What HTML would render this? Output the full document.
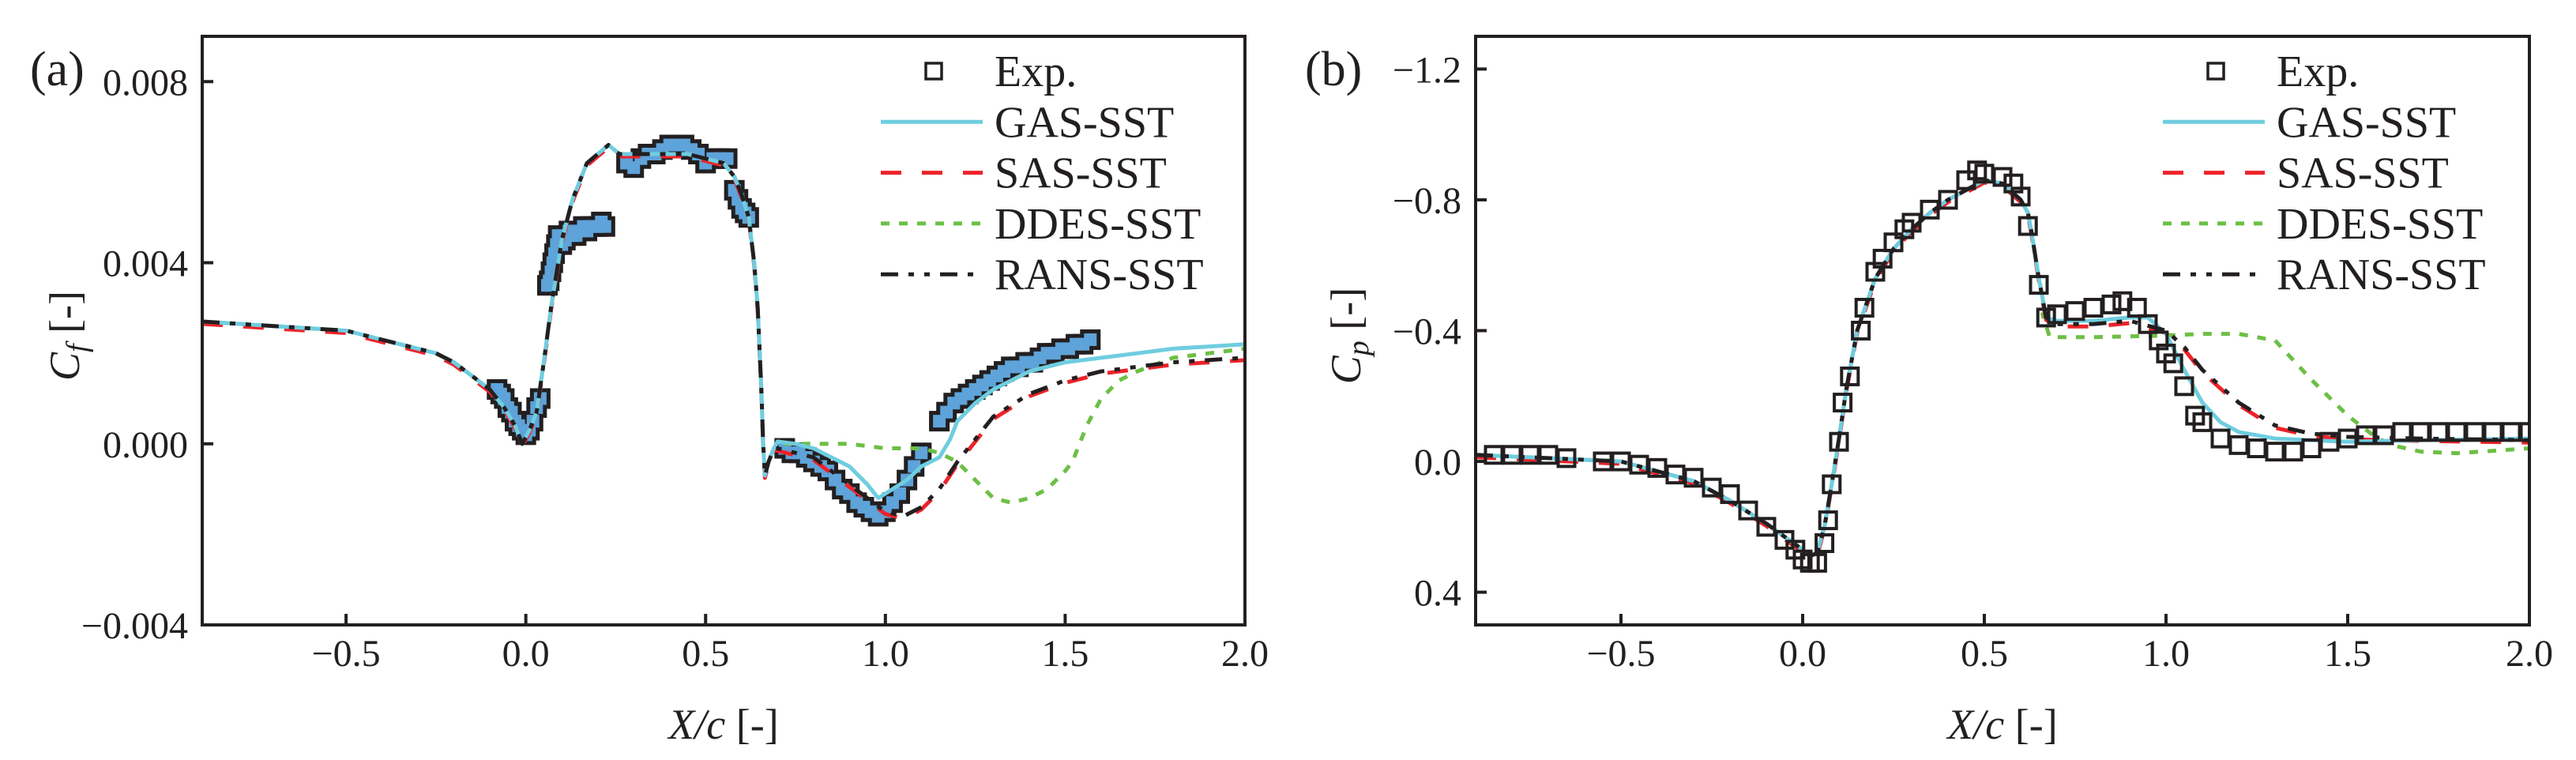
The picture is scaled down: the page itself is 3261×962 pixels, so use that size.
<!DOCTYPE html>
<html><head><meta charset="utf-8"><style>
html,body{margin:0;padding:0;background:#fff}
svg{display:block}
text{font-family:"Liberation Serif",serif;fill:#231f20}
</style></head><body>
<svg id="fig" width="3261" height="962" viewBox="0 0 3261 962" xmlns="http://www.w3.org/2000/svg">
</svg>
<script>
// ---------- Panel (a) Cf data ----------
const cfBaseX = [-0.9,-0.7,-0.5,-0.4,-0.3,-0.25,-0.2,-0.15,-0.1,-0.06,-0.03,-0.01,0.01,0.03,0.05,0.07,0.1,0.13,0.15,0.17,0.2,0.23,0.26,0.3,0.35,0.4,0.45,0.5,0.55,0.58,0.6,0.62,0.635,0.645,0.655,0.66,0.665,0.675,0.69];
const cfBaseY = [0.0027,0.0026,0.0025,0.0023,0.0021,0.0020,0.0018,0.0015,0.0012,0.0008,0.0004,0.0000,0.0003,0.0007,0.0018,0.0030,0.0045,0.0054,0.0058,0.0062,0.0064,0.0066,0.0064,0.0064,0.0064,0.0064,0.0064,0.0063,0.0062,0.0059,0.0055,0.0050,0.0040,0.0030,0.0012,0.0000,-0.0007,-0.0004,-0.0001];
const cfGasX = [0.7,0.75,0.8,0.85,0.9,0.95,0.98,1.02,1.06,1.1,1.15,1.18,1.2,1.25,1.3,1.4,1.5,1.6,1.7,1.8,1.9,2.0];
const cfGasY = [0.00005,0.0000,-0.0001,-0.0003,-0.0005,-0.0009,-0.0012,-0.0010,-0.0008,-0.0005,-0.0003,0.0001,0.0005,0.0009,0.0012,0.0016,0.0018,0.0019,0.0020,0.0021,0.00215,0.0022];
const cfRansX = [0.7,0.8,0.9,1.0,1.05,1.1,1.15,1.2,1.25,1.3,1.4,1.5,1.6,1.7,1.8,1.9,2.0];
const cfRansY = [-0.0001,-0.0003,-0.0009,-0.0015,-0.0016,-0.0014,-0.0010,-0.0004,0.0001,0.0006,0.0011,0.0014,0.0016,0.0017,0.0018,0.00185,0.0019];
const cfDdesX = [0.7,0.8,0.9,1.0,1.1,1.15,1.2,1.25,1.3,1.35,1.4,1.45,1.5,1.52,1.56,1.6,1.65,1.7,1.8,1.9,2.0];
const cfDdesY = [0.0,0.0,0.0,-0.0001,-0.0001,-0.0002,-0.0004,-0.0008,-0.0012,-0.0013,-0.0012,-0.0010,-0.0006,-0.0004,0.0004,0.0010,0.0014,0.0016,0.0019,0.0020,0.0021];
const cfExpX = [-0.08,-0.07,-0.06,-0.05,-0.04,-0.03,-0.02,-0.01,0.0,0.01,0.02,0.03,0.04,0.06,0.065,0.07,0.075,0.08,0.085,0.09,0.1,0.11,0.12,0.13,0.14,0.15,0.16,0.17,0.18,0.19,0.2,0.21,0.22,0.28,0.3,0.32,0.34,0.36,0.38,0.4,0.42,0.44,0.46,0.48,0.5,0.52,0.54,0.56,0.58,0.59,0.6,0.61,0.62,
 0.72,0.74,0.76,0.78,0.8,0.82,0.84,0.86,0.88,0.9,0.92,0.94,0.96,0.98,1.0,1.02,1.04,1.06,1.08,1.1,
 1.15,1.17,1.19,1.21,1.23,1.25,1.27,1.29,1.31,1.33,1.35,1.37,1.39,1.41,1.43,1.45,1.47,1.49,1.51,1.53,1.55,1.57];
const cfExpY = [0.0012,0.0011,0.0010,0.0008,0.0007,0.0005,0.0004,0.0003,0.0002,0.0003,0.0005,0.0008,0.0010,0.0035,0.0036,0.0038,0.0040,0.0042,0.0044,0.0046,0.0044,0.0045,0.0047,0.0046,0.0046,0.0047,0.0048,0.0047,0.0048,0.0048,0.0048,0.0049,0.0048,0.0062,0.0061,0.0063,0.0064,0.0064,0.0065,0.0066,0.0066,0.0066,0.0065,0.0064,0.0062,0.0063,0.0063,0.0063,0.0056,0.0054,0.0052,0.0051,0.0050,
 -0.0001,-0.0002,-0.0002,-0.0003,-0.0004,-0.0005,-0.0006,-0.0008,-0.0010,-0.0011,-0.0013,-0.0014,-0.0015,-0.0016,-0.0015,-0.0013,-0.0011,-0.0008,-0.0005,-0.0002,
 0.0005,0.0007,0.0009,0.0010,0.0011,0.0012,0.0013,0.0014,0.0015,0.0016,0.0017,0.0017,0.0018,0.0018,0.0019,0.0020,0.0020,0.0021,0.0021,0.0022,0.0022,0.0023];
const cfYTicks = [0.008,0.004,0.0,-0.004];
const cfYTickLabels = ["0.008","0.004","0.000","\u22120.004"];

// ---------- Panel (b) Cp data ----------
const cpBaseX = [-0.9,-0.7,-0.5,-0.4,-0.3,-0.2,-0.1,-0.05,0.0,0.02,0.04,0.06,0.08,0.1,0.12,0.15,0.2,0.25,0.3,0.35,0.4,0.45,0.5,0.55,0.6,0.62,0.63,0.65,0.67];
const cpBaseY = [-0.02,-0.01,0.0,0.03,0.06,0.12,0.19,0.23,0.27,0.29,0.28,0.2,0.07,-0.07,-0.22,-0.4,-0.56,-0.65,-0.71,-0.76,-0.80,-0.83,-0.86,-0.85,-0.80,-0.76,-0.70,-0.56,-0.44];
const cpGasX = [0.67,0.7,0.8,0.9,0.95,1.0,1.05,1.1,1.15,1.2,1.3,1.4,1.5,1.7,2.0];
const cpGasY = [-0.44,-0.43,-0.43,-0.44,-0.44,-0.39,-0.28,-0.18,-0.12,-0.09,-0.07,-0.065,-0.06,-0.065,-0.07];
const cpRansX = [0.67,0.7,0.8,0.9,1.0,1.05,1.1,1.2,1.3,1.4,1.5,1.7,2.0];
const cpRansY = [-0.44,-0.42,-0.42,-0.43,-0.40,-0.35,-0.28,-0.18,-0.11,-0.085,-0.075,-0.07,-0.065];
const cpDdesX = [0.66,0.68,0.8,1.0,1.1,1.2,1.3,1.4,1.5,1.57,1.62,1.7,1.8,2.0];
const cpDdesY = [-0.45,-0.38,-0.38,-0.385,-0.39,-0.39,-0.37,-0.25,-0.14,-0.08,-0.05,-0.03,-0.025,-0.04];
const cpExpX = [-0.85,-0.8,-0.75,-0.7,-0.65,-0.55,-0.5,-0.45,-0.4,-0.35,-0.3,-0.25,-0.2,-0.15,-0.1,-0.05,-0.02,0.0,0.02,0.04,0.06,0.07,0.08,0.1,0.11,0.13,0.16,0.17,0.2,0.22,0.25,0.28,0.3,0.35,0.4,0.45,0.48,0.5,0.55,0.58,0.6,0.62,0.65,0.67,0.7,0.75,0.8,0.85,0.88,0.92,0.95,0.98,1.0,1.02,1.05,1.08,1.1,1.15,1.2,1.25,1.3,1.35,1.4,1.45,1.5,1.55,1.6,1.65,1.7,1.75,1.8,1.85,1.9,1.95,2.0];
const cpExpY = [-0.02,-0.02,-0.02,-0.02,-0.01,0.0,0.0,0.01,0.02,0.04,0.05,0.08,0.1,0.15,0.2,0.24,0.27,0.3,0.31,0.31,0.25,0.18,0.07,-0.06,-0.18,-0.26,-0.4,-0.47,-0.58,-0.62,-0.67,-0.71,-0.73,-0.77,-0.8,-0.86,-0.89,-0.88,-0.87,-0.85,-0.81,-0.72,-0.54,-0.44,-0.45,-0.46,-0.47,-0.48,-0.49,-0.47,-0.42,-0.37,-0.33,-0.30,-0.23,-0.14,-0.12,-0.07,-0.05,-0.04,-0.03,-0.03,-0.04,-0.06,-0.07,-0.08,-0.08,-0.09,-0.09,-0.09,-0.09,-0.09,-0.09,-0.09,-0.09];
const cpYTicks = [-1.2,-0.8,-0.4,0.0,0.4];
const cpYTickLabels = ["\u22121.2","\u22120.8","\u22120.4","0.0","0.4"];

const xTicks = [-0.5,0.0,0.5,1.0,1.5,2.0];
const xTickLabels = ["\u22120.5","0.0","0.5","1.0","1.5","2.0"];
const legendLabels = ["Exp.","GAS-SST","SAS-SST","DDES-SST","RANS-SST"];

const NS = "http://www.w3.org/2000/svg";
const svg = document.getElementById('fig');
function mk(tag, attrs, parent){
  const e = document.createElementNS(NS, tag);
  for (const k in attrs) e.setAttribute(k, attrs[k]);
  (parent||svg).appendChild(e);
  return e;
}
const COL = {gas:"#6fcde0", sas:"#ee2229", ddes:"#6cbf45", rans:"#231f20"};
const DASH = {gas:"", sas:"26 26", ddes:"11 12", rans:"22 13 7 13 7 13"};

function panel(cfg){
  const g = mk('g', {});
  
  
  const L=cfg.L, R=cfg.R, T=46, B=791;
  const sx = v => L + (v - (-0.9)) / (2.9) * (R - L);
  const sy = v => T + (v - cfg.yTop) / (cfg.yBot - cfg.yTop) * (B - T);
  const clip = mk('clipPath', {id: cfg.name+'-clip'}, g);
  mk('rect', {x:L, y:T, width:R-L, height:B-T}, clip);
  const plot = mk('g', {'clip-path':'url(#'+cfg.name+'-clip)'}, g);
  
  

  if (cfg.band) {
    const expG = mk('g', {}, plot);
    
    
    cfg.expX.forEach((x,i)=>{
      const r = mk('rect', {x:sx(x)-13, y:sy(cfg.expY[i])-13, width:26, height:26, fill:"#231f20"}, expG);
      
      
    });
    cfg.expX.forEach((x,i)=>{
      const r = mk('rect', {x:sx(x)-8, y:sy(cfg.expY[i])-8, width:16, height:16, fill:"#5ea3d9"}, expG);
      
      
    });
  }
  const series = [
    ['ddes', cfg.baseX.concat(cfg.ddesX), cfg.baseY.concat(cfg.ddesY)],
    ['sas', cfg.baseX.concat(cfg.ransX), cfg.baseY.concat(cfg.ransY)],
    ['gas', cfg.baseX.concat(cfg.gasX), cfg.baseY.concat(cfg.gasY)],
    ['rans', cfg.baseX.concat(cfg.ransX), cfg.baseY.concat(cfg.ransY)]
  ];
  series.forEach(s=>{
    const pts = s[1].map((x,i)=> sx(x).toFixed(1)+','+(sy(s[2][i])+ (s[0]==='sas'?3:0)).toFixed(1)).join(' ');
    const p = mk('polyline', {points:pts, fill:'none', stroke:COL[s[0]], 'stroke-width':5, 'stroke-dasharray':DASH[s[0]], 'stroke-linejoin':'round'}, plot);
    
    
  });
  if (!cfg.band) {
    const expG = mk('g', {}, plot);
    
    
    cfg.expX.forEach((x,i)=>{
      const r = mk('rect', {x:sx(x)-10.5, y:sy(cfg.expY[i])-10.5, width:21, height:21, fill:"none", stroke:"#231f20", 'stroke-width':4}, expG);
      
      
    });
  }
  const fr = mk('rect', {x:L, y:T, width:R-L, height:B-T, fill:'none', stroke:'#231f20', 'stroke-width':4}, g);
  
  
  xTicks.forEach((v,i)=>{
    const x = sx(v);
    const t = mk('line', {x1:x, x2:x, y1:B, y2:B-14, stroke:'#231f20', 'stroke-width':4}, g);
    
    
    const lb = mk('text', {x:x, y:843, 'font-size':48, 'text-anchor':'middle'}, g);
    lb.textContent = xTickLabels[i];
    
    
  });
  cfg.yTicks.forEach((v,i)=>{
    const y = sy(v);
    const t = mk('line', {x1:L, x2:L+14, y1:y, y2:y, stroke:'#231f20', 'stroke-width':4}, g);
    
    
    const lb = mk('text', {x:L-18, y:y+17, 'font-size':48, 'text-anchor':'end'}, g);
    lb.textContent = cfg.yTickLabels[i];
    
    
  });
  const xt = mk('text', {x:(L+R)/2, y:935, 'font-size':54, 'text-anchor':'middle'}, g);
  xt.innerHTML = '<tspan font-style="italic">X/c</tspan> [-]';
  
  
  const yt = mk('text', {x:0, y:0, 'font-size':54, 'text-anchor':'middle', transform:'translate('+(cfg.ytX)+',425) rotate(-90)'}, g);
  yt.innerHTML = '<tspan font-style="italic">C</tspan><tspan font-style="italic" font-size="38" dy="10">'+cfg.sub+'</tspan><tspan dy="-10"> [-]</tspan>';
  
  
  const pl = mk('text', {x:cfg.plX, y:108, 'font-size':62}, g);
  pl.textContent = cfg.label;
  
  
  const lg = mk('g', {}, g);
  
  
  const lx = cfg.legX;
  const keys = [null,'gas','sas','ddes','rans'];
  legendLabels.forEach((lab,i)=>{
    const y = 90 + i*64.3;
    const e = mk('g', {}, lg);
    
    
    if (i===0) mk('rect', {x:lx+57, y:y-10, width:20, height:20, fill:'none', stroke:'#231f20', 'stroke-width':3.5}, e);
    else mk('line', {x1:lx, x2:lx+129, y1:y, y2:y, stroke:COL[keys[i]], 'stroke-width':5, 'stroke-dasharray':DASH[keys[i]]}, e);
    const t = mk('text', {x:lx+144, y:y+19, 'font-size':56}, e);
    t.textContent = lab;
  });
}

panel({name:'panel-a-cf', L:256, R:1576, yTop:0.009, yBot:-0.004,
  baseX:cfBaseX, baseY:cfBaseY, gasX:cfGasX, gasY:cfGasY, ransX:cfRansX, ransY:cfRansY, ddesX:cfDdesX, ddesY:cfDdesY,
  expX:cfExpX, expY:cfExpY, band:true, yTicks:cfYTicks, yTickLabels:cfYTickLabels, ytX:100, sub:'f', label:'(a)', plX:38, legX:1115});
panel({name:'panel-b-cp', L:1868, R:3202, yTop:-1.3, yBot:0.5,
  baseX:cpBaseX, baseY:cpBaseY, gasX:cpGasX, gasY:cpGasY, ransX:cpRansX, ransY:cpRansY, ddesX:cpDdesX, ddesY:cpDdesY,
  expX:cpExpX, expY:cpExpY, band:false, yTicks:cpYTicks, yTickLabels:cpYTickLabels, ytX:1722, sub:'p', label:'(b)', plX:1652, legX:2738});
</script>
</body></html>
